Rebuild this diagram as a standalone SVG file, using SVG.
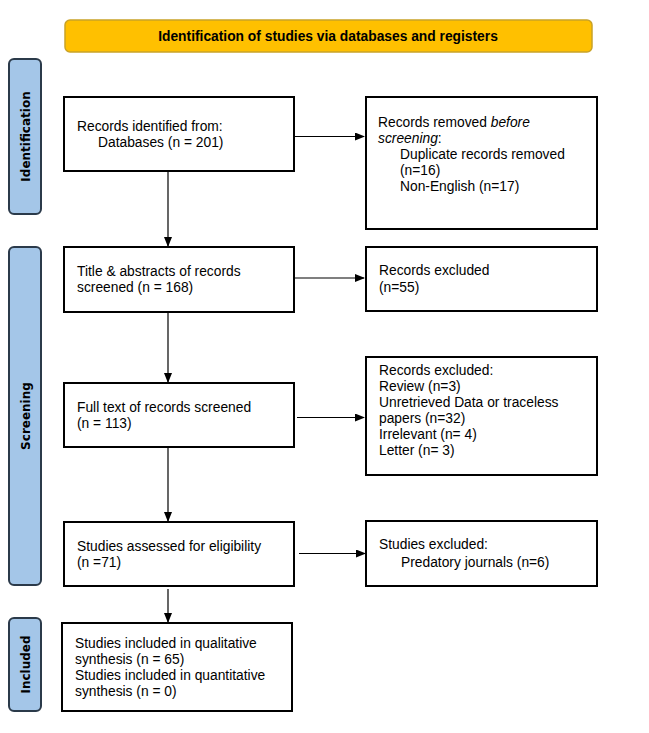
<svg xmlns="http://www.w3.org/2000/svg" width="649" height="733" viewBox="0 0 649 733">
<defs>
<marker id="ah" markerWidth="10" markerHeight="8" refX="9" refY="4" orient="auto" markerUnits="userSpaceOnUse"><path d="M0,0 L10,4 L0,8 Z" fill="#000"/></marker>
<style>
.box{fill:#fff;stroke:#000;stroke-width:2}
.side{fill:#A4C6E8;stroke:#2B3A4A;stroke-width:2}
.t{font-family:"Liberation Sans",Arial,sans-serif;font-size:13.8px;fill:#000}
.sl{font-family:"DejaVu Sans","Liberation Sans",sans-serif;font-size:12px;font-weight:bold;fill:#000}
.conn{stroke:#000;stroke-width:1.2;fill:none;marker-end:url(#ah)}
</style>
</defs>
<rect width="649" height="733" fill="#fff"/>
<g id="banner">
<rect x="65" y="20" width="527" height="32" rx="5" fill="#FFC000" stroke="#C9A227" stroke-width="1.5"/>
<text x="328" y="41" text-anchor="middle" style="font-family:'Liberation Sans',Arial,sans-serif;font-size:13.8px;font-weight:bold">Identification of studies via databases and registers</text>
</g>
<g id="side-identification">
<rect class="side" x="9" y="59" width="32" height="155" rx="5"/>
<text class="sl" transform="translate(29.5,136.5) rotate(-90)" text-anchor="middle">Identification</text>
</g>
<g id="side-screening">
<rect class="side" x="9" y="247" width="32" height="338" rx="5"/>
<text class="sl" transform="translate(29.5,416) rotate(-90)" text-anchor="middle">Screening</text>
</g>
<g id="side-included">
<rect class="side" x="9" y="618" width="32" height="93" rx="5"/>
<text class="sl" transform="translate(29.5,664.5) rotate(-90)" text-anchor="middle">Included</text>
</g>
<g id="n-identified">
<rect class="box" x="64" y="97" width="230" height="74"/>
<text class="t" x="77" y="131">Records identified from:</text>
<text class="t" x="98" y="147">Databases (n = 201)</text>
</g>
<g id="n-removed">
<rect class="box" x="366" y="97" width="231" height="132"/>
<text class="t" x="378" y="127">Records removed <tspan font-style="italic">before</tspan></text>
<text class="t" x="378" y="143"><tspan font-style="italic">screening</tspan>:</text>
<text class="t" x="400" y="159">Duplicate records removed</text>
<text class="t" x="400" y="175">(n=16)</text>
<text class="t" x="400" y="191">Non-English (n=17)</text>
</g>
<g id="n-screened">
<rect class="box" x="64" y="247" width="230" height="65"/>
<text class="t" x="77" y="276">Title &amp; abstracts of records</text>
<text class="t" x="77" y="292">screened (n = 168)</text>
</g>
<g id="n-excluded1">
<rect class="box" x="366" y="247" width="231" height="64"/>
<text class="t" x="379" y="275">Records excluded</text>
<text class="t" x="379" y="292">(n=55)</text>
</g>
<g id="n-fulltext">
<rect class="box" x="64" y="383" width="230" height="64"/>
<text class="t" x="77" y="412">Full text of records screened</text>
<text class="t" x="77" y="428">(n = 113)</text>
</g>
<g id="n-excluded2">
<rect class="box" x="366" y="357" width="231" height="118"/>
<text class="t" x="379" y="375">Records excluded:</text>
<text class="t" x="379" y="391">Review (n=3)</text>
<text class="t" x="379" y="407">Unretrieved Data or traceless</text>
<text class="t" x="379" y="423">papers (n=32)</text>
<text class="t" x="379" y="439">Irrelevant (n= 4)</text>
<text class="t" x="379" y="455">Letter (n= 3)</text>
</g>
<g id="n-eligibility">
<rect class="box" x="64" y="522" width="230" height="64"/>
<text class="t" x="77" y="551">Studies assessed for eligibility</text>
<text class="t" x="77" y="567">(n =71)</text>
</g>
<g id="n-excluded3">
<rect class="box" x="366" y="521" width="231" height="65"/>
<text class="t" x="379" y="549">Studies excluded:</text>
<text class="t" x="401" y="567">Predatory journals (n=6)</text>
</g>
<g id="n-included">
<rect class="box" x="62" y="623" width="230" height="88"/>
<text class="t" x="75" y="648">Studies included in qualitative</text>
<text class="t" x="75" y="664">synthesis (n = 65)</text>
<text class="t" x="75" y="680">Studies included in quantitative</text>
<text class="t" x="75" y="696">synthesis (n = 0)</text>
</g>
<g id="connectors">
<line class="conn" x1="295" y1="136.5" x2="364" y2="136.5"/>
<line class="conn" x1="168" y1="172" x2="168" y2="246"/>
<line class="conn" x1="295" y1="278" x2="364" y2="278"/>
<line class="conn" x1="168" y1="313" x2="168" y2="382"/>
<line class="conn" x1="297" y1="417.5" x2="364" y2="417.5"/>
<line class="conn" x1="168" y1="448" x2="168" y2="521"/>
<line class="conn" x1="299" y1="553.5" x2="365" y2="553.5"/>
<line class="conn" x1="168" y1="589" x2="168" y2="622"/>
</g>
</svg>
